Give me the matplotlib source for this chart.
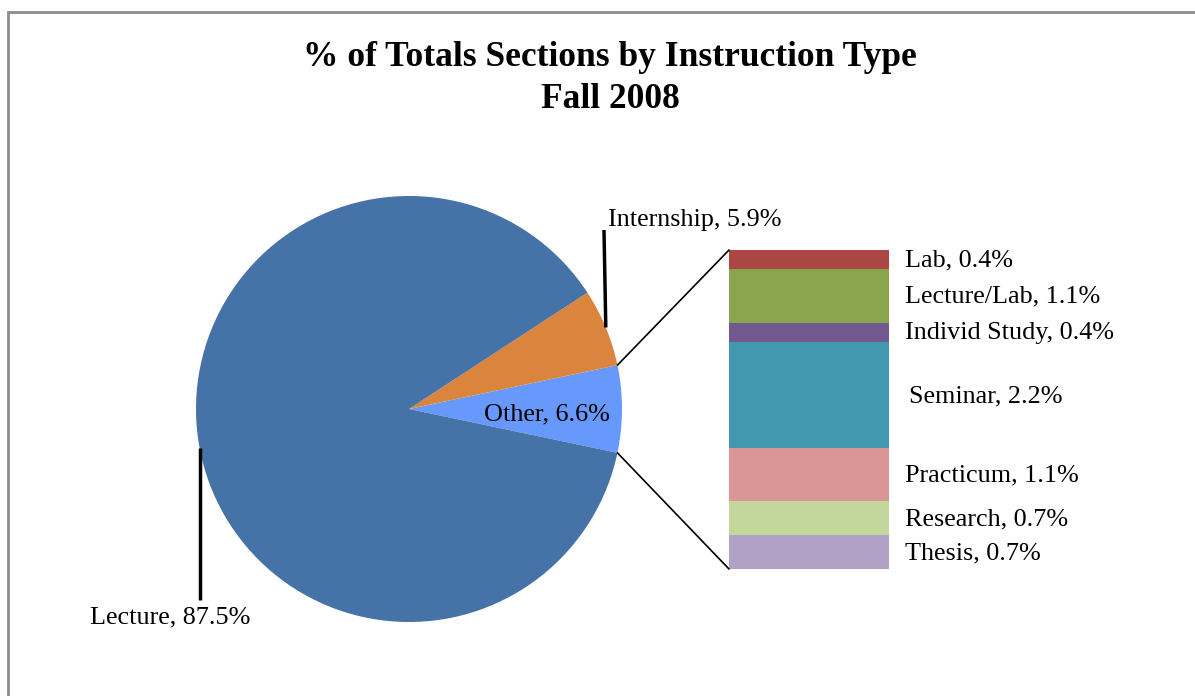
import numpy as np
import matplotlib
matplotlib.use("Agg")
import matplotlib.pyplot as plt
from matplotlib.patches import ConnectionPatch, Rectangle

# ---- data ----
title_lines = ["% of Totals Sections by Instruction Type", "Fall 2008"]
pie_labels = ["Other", "Internship", "Lecture"]
pie_values = [6.6, 5.9, 87.5]
pie_colors = ["#6699FB", "#DB843D", "#4572A7"]

bar_labels = ["Thesis", "Research", "Practicum", "Seminar", "Individ Study", "Lecture/Lab", "Lab"]
bar_values = [0.7, 0.7, 1.1, 2.2, 0.4, 1.1, 0.4]
bar_colors = ["#B2A1C7", "#C3D69B", "#D99694", "#4298AF", "#71588F", "#89A54E", "#AA4643"]

W, H = 1195, 696
plt.rcParams['font.family'] = ['Liberation Serif', 'DejaVu Serif']
fig = plt.figure(figsize=(W / 100, H / 100), dpi=100)

# main axes in pixel coordinates (y up)
ax = fig.add_axes([0, 0, 1, 1])
cx, cy, r = 409, H - 409, 213
total = sum(pie_values)
start = -pie_values[0] / total * 360 / 2
wedges, _ = ax.pie(pie_values, colors=pie_colors, startangle=start, counterclock=True,
                   center=(cx, cy), radius=r, frame=True,
                   wedgeprops=dict(linewidth=0))
ax.set_xlim(0, W)
ax.set_ylim(0, H)
ax.set_aspect('equal')
ax.axis('off')

# border (left/top visible, extends beyond right/bottom)
fig.patches.append(Rectangle((8 / W, -0.1), 1.2, (H - 12) / H + 0.1, transform=fig.transFigure,
                             fill=False, edgecolor="#8C8C8C", linewidth=2))

fs = 18.8

def edge_pt(angle_deg):
    a = np.deg2rad(angle_deg)
    return cx + r * np.cos(a), cy + r * np.sin(a)

angles = []
acc = start
for v in pie_values:
    a0 = acc
    acc += v / total * 360
    angles.append((a0, acc))

# Other label inside
ax.text(547, H - 414, f"{pie_labels[0]}, {pie_values[0]}%", fontsize=fs, ha='center', va='center')
# Internship
mid = sum(angles[1]) / 2
px, py = edge_pt(mid)
ax.plot([px, 604], [py, H - 230], color='black', lw=2.5, solid_capstyle='butt')
ax.text(608, H - 220, f"{pie_labels[1]}, {pie_values[1]}%", fontsize=fs, ha='left', va='center')
# Lecture
mid = sum(angles[2]) / 2
px, py = edge_pt(mid)
ax.plot([px, px], [py, H - 600], color='black', lw=2.5, solid_capstyle='butt')
ax.text(170, H - 617, f"{pie_labels[2]}, {pie_values[2]}%", fontsize=fs, ha='center', va='center')

# bar axes
bx0, bx1, by0, by1 = 729, 889, 250, 569
bax = fig.add_axes([bx0 / W, (H - by1) / H, (bx1 - bx0) / W, (by1 - by0) / H])
bottom = 0
for lab, val, col in zip(bar_labels, bar_values, bar_colors):
    bax.bar(0, val, bottom=bottom, width=1.0, color=col, linewidth=0)
    dx = 20 if lab == "Seminar" else 16
    bax.annotate(f"{lab}, {val}%", xy=(0.5, bottom + val / 2), xytext=(dx, -1),
                 textcoords='offset pixels', fontsize=fs, ha='left', va='center',
                 annotation_clip=False)
    bottom += val
bax.set_xlim(-0.5, 0.5)
bax.set_ylim(0, bottom)
bax.axis('off')

# connectors
for ang, yb in [(angles[0][1], bottom), (angles[0][0], 0)]:
    p = edge_pt(ang)
    con = ConnectionPatch(xyA=p, coordsA=ax.transData, xyB=(-0.5, yb), coordsB=bax.transData,
                          color='black', lw=1.2)
    fig.add_artist(con)

# title
fig.text(610 / W, (H - 57) / H, title_lines[0], fontsize=25.5, fontweight='bold',
         ha='center', va='center')
fig.text(610 / W, (H - 100) / H, title_lines[1], fontsize=25.5, fontweight='bold',
         ha='center', va='center')

fig.savefig("out.png", dpi=100)
